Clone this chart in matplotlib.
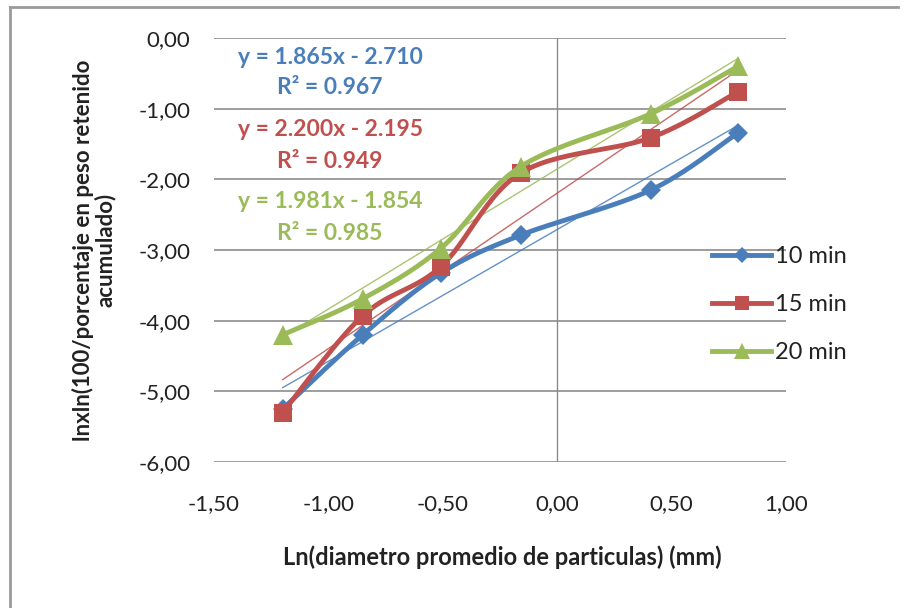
import numpy as np
import matplotlib
matplotlib.use("Agg")
import matplotlib.pyplot as plt
from matplotlib.lines import Line2D

plt.rcParams['font.family'] = ['Lato', 'DejaVu Sans']

# ---- data ----
x_vals = [-1.20, -0.85, -0.51, -0.16, 0.41, 0.79]
y_10 = [-5.25, -4.20, -3.33, -2.79, -2.15, -1.34]
y_15 = [-5.30, -3.93, -3.24, -1.91, -1.41, -0.76]
y_20 = [-4.20, -3.69, -2.98, -1.82, -1.07, -0.40]
series_names = ['10 min', '15 min', '20 min']
fit_slopes = [1.865, 2.200, 1.981]
fit_intercepts = [-2.710, -2.195, -1.854]
fit_r2 = [0.967, 0.949, 0.985]
x_ticks = [-1.5, -1.0, -0.5, 0.0, 0.5, 1.0]
y_ticks = [0, -1, -2, -3, -4, -5, -6]

colors = ['#4A7EBB', '#C0504D', '#9BBB59']
markers = ['D', 's', '^']
msizes = [10.5, 13, 14]


def smooth(x, y, n=30):
    p = np.column_stack([x, y]).astype(float)
    out = [p[0]]
    for i in range(len(p) - 1):
        p0 = p[i - 1] if i > 0 else p[i]
        p1 = p[i]
        p2 = p[i + 1]
        p3 = p[i + 2] if i + 2 < len(p) else p[i + 1]
        c1 = p1 + (p2 - p0) / 6.0
        c2 = p2 - (p3 - p1) / 6.0
        t = np.linspace(0, 1, n)[1:, None]
        b = ((1 - t) ** 3) * p1 + 3 * ((1 - t) ** 2) * t * c1 + 3 * (1 - t) * t ** 2 * c2 + t ** 3 * p2
        out.extend(b)
    out = np.array(out)
    return out[:, 0], out[:, 1]


fig = plt.figure(figsize=(9.06, 6.08), dpi=100)
ax = fig.add_axes([214 / 906, 1 - 462 / 608, (786 - 214) / 906, (462 - 38) / 608])

ax.set_xlim(-1.5, 1.0)
ax.set_ylim(-6, 0)

# gridlines
for yt in y_ticks:
    ax.axhline(yt, color='#8C8C8C', lw=1.2, zorder=1)
ax.axvline(0, color='#8C8C8C', lw=1.0, zorder=1)

for s in ax.spines.values():
    s.set_visible(False)

ax.set_xticks(x_ticks)
ax.set_yticks(y_ticks)
ax.set_xticklabels([f"{v:.2f}".replace('.', ',') for v in x_ticks])
ax.set_yticklabels([f"{v:.2f}".replace('.', ',') for v in y_ticks])
ax.tick_params(length=0, labelsize=16, colors='#222222')
ax.tick_params(axis='y', pad=17)
ax.tick_params(axis='x', pad=23)

all_y = [y_10, y_15, y_20]
handles = []
for i, ys in enumerate(all_y):
    # trendline
    xt = np.array([min(x_vals), max(x_vals)])
    ax.plot(xt, fit_slopes[i] * xt + fit_intercepts[i], color=colors[i], lw=1.0, alpha=0.85, zorder=2)
    sx, sy = smooth(x_vals, ys)
    ax.plot(sx, sy, color=colors[i], lw=3.5, zorder=3 + i, solid_capstyle='round')
    ax.plot(x_vals, ys, linestyle='none', marker=markers[i], ms=msizes[i], color=colors[i],
            zorder=3 + i, markeredgewidth=0)
    handles.append(Line2D([], [], color=colors[i], lw=3.5, marker=markers[i],
                          ms=msizes[i] * 0.8, markeredgewidth=0))

# equation labels
eq_y = [57, 130, 202]
for i in range(3):
    fig.text(330 / 906, 1 - eq_y[i] / 608,
             f"y = {fit_slopes[i]:.3f}x - {abs(fit_intercepts[i]):.3f}",
             ha='center', va='center', fontsize=16.5, fontweight='bold', color=colors[i])
    fig.text(330 / 906, 1 - (eq_y[i] + 31) / 608,
             f"R² = {fit_r2[i]:.3f}",
             ha='center', va='center', fontsize=16.5, fontweight='bold', color=colors[i])

leg = fig.legend(handles, series_names, loc='upper left',
                 bbox_to_anchor=(712 / 906, 1 - 246 / 608), frameon=False,
                 fontsize=17, handlelength=2.5, handletextpad=0.15,
                 labelspacing=1.15, borderpad=0, borderaxespad=0)
for t in leg.get_texts():
    t.set_color('#222222')

fig.text(502 / 906, 1 - 557 / 608, "Ln(diametro promedio de particulas) (mm)",
         ha='center', va='center', fontsize=17, fontweight='bold', color='#222222')
fig.text(94 / 906, 1 - 250 / 608, "lnxln(100/porcentaje en peso retenido\nacumulado)",
         ha='center', va='center', rotation=90, fontsize=16, fontweight='bold',
         color='#222222', linespacing=1.0)

# outer chart border (top and left visible)
fig.add_artist(Line2D([10 / 906, 10 / 906], [0, 1 - 7 / 608], color='#9A9A9A', lw=2,
                      transform=fig.transFigure))
fig.add_artist(Line2D([10 / 906, 898 / 906], [1 - 7 / 608, 1 - 7 / 608], color='#9A9A9A', lw=2,
                      transform=fig.transFigure))

fig.savefig('out.png', dpi=100)
